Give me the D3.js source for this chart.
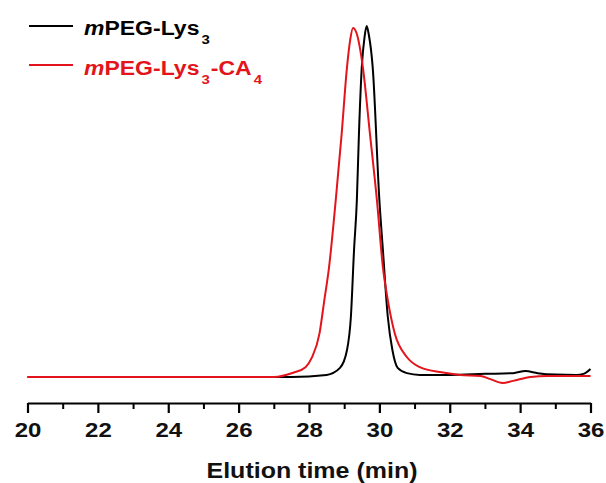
<!DOCTYPE html>
<html>
<head>
<meta charset="utf-8">
<script src="https://cdn.jsdelivr.net/npm/d3@7"></script>
<style>
  body { margin: 0; background: #fff; }
  svg text { font-family: "Liberation Sans", Arial, sans-serif; font-weight: bold; }
</style>
</head>
<body>
<div id="chart"></div>
<script>

// elution time (min) and detector response (baseline 0, top peak 100)
var time_lys = [20, 24, 27.5, 28.5, 28.88, 29.08, 29.19, 29.28, 29.36, 29.42, 29.5, 29.58, 29.64,
                29.7, 29.81, 30.0, 30.1, 30.24, 30.37, 30.52, 30.78, 31.15, 32, 33, 33.8, 34.15,
                34.5, 35, 35.6, 35.8, 36];
var resp_lys = [0, 0, 0, 0.6, 2.6, 7.7, 17.1, 36.2, 50.4, 69.5, 88.3, 97, 100,
                97.5, 88.3, 50.4, 36.2, 17.1, 7.7, 2.6, 1.1, 0.6, 0.6, 0.9, 1.1, 1.7,
                1.1, 0.7, 0.6, 0.9, 2.3];

var time_ca = [20, 27, 27.55, 27.9, 28.08, 28.3, 28.43, 28.57, 28.76, 28.93, 29.08, 29.17, 29.25, 29.35,
               29.53, 29.73, 29.93, 30.1, 30.24, 30.44, 30.78, 31.15, 31.72, 32.3, 32.87, 33.15,
               33.5, 33.8, 34.3, 34.77, 36];
var resp_ca = [0, 0, 1.2, 2.8, 5.5, 12.5, 21.5, 31.3, 50.4, 69.5, 88.3, 96, 99.4, 98,
               88.3, 69.5, 50.4, 31.3, 21.9, 12.3, 5.7, 2.8, 1.4, 0.6, 0.3, -0.6,
               -1.7, -1.1, 0, 0.3, 0.3];

var major_ticks = [20, 22, 24, 26, 28, 30, 32, 34, 36];
var minor_ticks = [21, 23, 25, 27, 29, 31, 33, 35];

var params = {
    width: 606, height: 483,
    x0: 27.5, x1: 590.5,
    axis_y: 403, peak_y: 26,
    black: "#000000", red: "#e3141b"
};

function zip(t, v) {
    return t.map(function(d, i) { return { t: d, v: v[i] }; });
}

function plot_chart() {

    var svg = d3.select("#chart")
                .append("svg")
                .attr("width", params.width)
                .attr("height", params.height);

    var x = d3.scaleLinear().domain([20, 36]).range([params.x0, params.x1]);
    // baseline (0) sits at y=377, peak (100) at y=26
    var y = d3.scaleLinear().domain([0, 100]).range([377, params.peak_y]);

    // bottom axis, major ticks with labels
    var x_axis = d3.axisBottom(x).tickValues(major_ticks).tickSize(10).tickSizeOuter(0)
                   .tickFormat(d3.format("d"));
    var gx = svg.append("g")
        .attr("class", "axis")
        .attr("transform", "translate(0," + params.axis_y + ")")
        .call(x_axis);
    gx.select(".domain").attr("stroke-width", 2.2);
    gx.selectAll(".tick line").attr("stroke-width", 2.2);
    gx.selectAll(".tick text")
        .attr("y", 0).attr("dy", 0)
        .attr("transform", "translate(0,34) scale(1,0.87)")
        .style("font-size", "24px")
        .attr("fill", "#111");

    // minor ticks
    var minor_axis = d3.axisBottom(x).tickValues(minor_ticks).tickSize(6).tickFormat("");
    var gm = svg.append("g")
        .attr("transform", "translate(0," + params.axis_y + ")")
        .call(minor_axis);
    gm.select(".domain").remove();
    gm.selectAll(".tick line").attr("stroke-width", 2);

    // axis label
    svg.append("text")
        .attr("transform", "translate(" + ((params.x0 + params.x1) / 2 + 3) + ",478) scale(1,0.9)")
        .attr("text-anchor", "middle")
        .style("font-size", "25px")
        .attr("fill", "#111")
        .text("Elution time (min)");

    var line = d3.line()
        .x(function(d) { return x(d.t); })
        .y(function(d) { return y(d.v); })
        .curve(d3.curveMonotoneX);

    svg.append("path")
        .datum(zip(time_lys, resp_lys))
        .attr("fill", "none")
        .attr("stroke", params.black)
        .attr("stroke-width", 2)
        .attr("d", line);

    svg.append("path")
        .datum(zip(time_ca, resp_ca))
        .attr("fill", "none")
        .attr("stroke", params.red)
        .attr("stroke-width", 2)
        .attr("d", line);

    add_legend(svg);
}

function add_legend(svg) {

    var entries = [
        { color: params.black, line_y: 26, base: 35, parts: [["m", "i"], ["PEG-Lys", ""], ["3", "s"]] },
        { color: params.red, line_y: 65, base: 75, parts: [["m", "i"], ["PEG-Lys", ""], ["3", "s"], ["-CA", ""], ["4", "s"]] }
    ];

    entries.forEach(function(e) {
        svg.append("line")
            .attr("x1", 29).attr("x2", 73)
            .attr("y1", e.line_y).attr("y2", e.line_y)
            .attr("stroke", e.color)
            .attr("stroke-width", 2);

        var t = svg.append("text")
            .attr("transform", "translate(84," + e.base + ") scale(1,0.88)")
            .style("font-size", "23px")
            .attr("fill", e.color);

        var shifted = false;
        e.parts.forEach(function(p) {
            var ts = t.append("tspan").text(p[0]);
            if (p[1] == "i") ts.style("font-style", "italic");
            if (p[1] == "s") {
                ts.style("font-size", "15px").attr("dx", 2).attr("dy", 10);
                shifted = true;
            } else if (shifted) {
                ts.attr("dy", -10).attr("dx", 1);
                shifted = false;
            }
        });
    });
}

plot_chart();

</script>
</body>
</html>
